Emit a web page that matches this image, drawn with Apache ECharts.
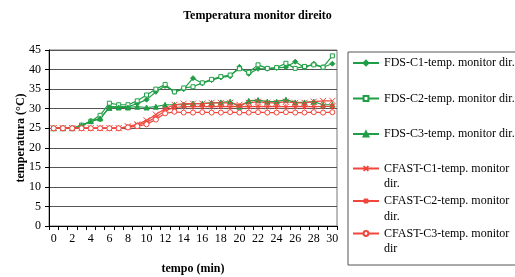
<!DOCTYPE html>
<html>
<head>
<meta charset="utf-8">
<script src="https://cdn.jsdelivr.net/npm/echarts@6/dist/echarts.min.js"></script>
<style>
  html, body { margin: 0; padding: 0; background: #fff; }
  #main { width: 515px; height: 277px; }
</style>
</head>
<body>
<div id="main"></div>
<script>
// 時間 (min)
const tempo = ["0","1","2","3","4","5","6","7","8","9","10","11","12","13","14","15","16","17","18","19","20","21","22","23","24","25","26","27","28","29","30"];
const yTicks = [0, 5, 10, 15, 20, 25, 30, 35, 40, 45];

// FDS
const fdsC1 = [25,25,25,25.5,26.8,27.3,30.5,30.5,30.5,31.3,32.3,34.3,35.8,34.3,35,37.8,36.5,37.3,38,38.3,40.7,38.9,40.2,40.2,40.4,40.6,42,40.5,41.5,40.6,41.5];
const fdsC2 = [25,25,25,25.8,26.8,28.3,31.4,31,31,32,33.5,35,36.2,34.3,35.3,35.6,36.6,37.5,38.2,38.6,40.2,39.3,41.2,40.3,40.5,41.6,40.3,40.8,41.2,40.6,43.5];
const fdsC3 = [25,25,25,25.7,26.8,27.5,30.2,30.3,30.3,30.5,30.3,30.5,31,31,31,31.3,31.3,31.5,31.6,31.8,30.5,32,32.2,31.8,31.8,32.3,31.6,31.6,31.8,31,31];

// CFAST
const cfastC1 = [25,25,25,25,25,25,25,25,25.5,26,27,28.5,30,31,31.3,31.3,31.3,31.5,31.5,31.5,31,31.5,31.8,31.5,31.5,31.8,31.5,31.5,31.8,32,32];
const cfastC2 = [25,25,25,25,25,25,25,25,25.3,25.8,26.5,27.8,29.5,30.3,30.5,30.5,30.6,30.5,30.6,30.5,30.6,30.5,30.6,30.5,30.6,30.5,30.5,30.6,30.5,30.6,30.6];
const cfastC3 = [25,25,25,25,25,25,25,25,25.2,25.5,26,27.2,28.8,29.2,29,29,29.1,29,29,29.1,29,29,29.1,29,29,29.1,29,29,29.1,29,29.1];

const names = [
  "FDS-C1-temp. monitor dir.",
  "FDS-C2-temp. monitor dir.",
  "FDS-C3-temp. monitor dir.",
  "CFAST-C1-temp. monitor dir.",
  "CFAST-C2-temp. monitor dir.",
  "CFAST-C3-temp. monitor dir",
];

const GREEN = "#1f9e45";
const RED = "#f0463c";
const SERIF = "'Liberation Serif', 'Times New Roman', serif";

// x / 星號 符號
const crossPath = "path://M0,0L10,10M10,0L0,10";
const starPath = "path://M0,0L10,10M10,0L0,10M5,-1L5,11M-1,5L11,5";

function makeSeries(name, data, color, symbol, size, hollow) {
  return {
    name: name,
    type: "line",
    data: data,
    symbol: symbol,
    symbolSize: size,
    showSymbol: true,
    lineStyle: { color: color, width: 1.2 },
    itemStyle: {
      color: hollow ? "#fff" : color,
      borderColor: color,
      borderWidth: 1,
    },
    emphasis: { disabled: true },
  };
}

const chart = echarts.init(document.getElementById("main"), null, { renderer: "canvas" });

const option = {
  animation: false,
  backgroundColor: "#fff",
  title: {
    text: "Temperatura monitor direito",
    left: "center",
    top: 5,
    textStyle: { fontFamily: SERIF, fontSize: 12, fontWeight: "bold", color: "#000" },
  },
  grid: {
    left: 49, right: 178, top: 50, bottom: 51,
    outerBoundsMode: "none",
    show: true, borderColor: "#777", borderWidth: 1,
  },
  // 圖例分兩組，CFAST 文字要換行
  legend: [
    {
      data: names.slice(0, 3),
      orient: "vertical",
      left: 352, top: 56,
      padding: 0,
      itemWidth: 26, itemHeight: 6, itemGap: 21.5,
      textStyle: { fontFamily: SERIF, fontSize: 12, color: "#000", lineHeight: 14 },
    },
    {
      data: names.slice(3),
      orient: "vertical",
      left: 352, top: 147,
      padding: 0,
      itemWidth: 26, itemHeight: 6, itemGap: -10.5,
      formatter: function (n) {
        const i = n.lastIndexOf(" ");
        return "{a| }\n{a|" + n.slice(0, i) + "}\n{a|" + n.slice(i + 1) + "}";
      },
      textStyle: {
        fontFamily: SERIF, fontSize: 12, color: "#000",
        rich: { a: { fontFamily: SERIF, fontSize: 12, lineHeight: 15.5, color: "#000" } },
      },
    },
  ],
  graphic: [
    {
      type: "rect",
      shape: { x: 348, y: 52, width: 175, height: 213 },
      style: { fill: "none", stroke: "#555", lineWidth: 1 },
      z: 0,
    },
  ],
  xAxis: {
    type: "category",
    data: tempo,
    boundaryGap: true,
    name: "tempo (min)",
    nameLocation: "middle",
    nameGap: 37,
    nameMoveOverlap: false,
    nameTextStyle: { fontFamily: SERIF, fontSize: 12, fontWeight: "bold", color: "#000" },
    axisLine: { lineStyle: { color: "#000", width: 1 } },
    axisTick: { show: true, interval: 0, length: 4, lineStyle: { color: "#000" } },
    axisLabel: { interval: 1, margin: 7, fontFamily: SERIF, fontSize: 12, color: "#000" },
    splitLine: { show: false },
  },
  yAxis: {
    type: "value",
    min: yTicks[0],
    max: yTicks[yTicks.length - 1],
    interval: 5,
    name: "temperatura (°C)",
    nameLocation: "middle",
    nameGap: 22,
    nameMoveOverlap: false,
    nameTextStyle: { fontFamily: SERIF, fontSize: 12, fontWeight: "bold", color: "#000" },
    axisLine: { show: true, lineStyle: { color: "#000", width: 1 } },
    axisTick: { show: true, length: 4, lineStyle: { color: "#000" } },
    axisLabel: { margin: 8, fontFamily: SERIF, fontSize: 12, color: "#000" },
    splitLine: { show: true, lineStyle: { color: "#555", width: 1 } },
  },
  series: [
    makeSeries(names[0], fdsC1, GREEN, "diamond", 5, false),
    makeSeries(names[1], fdsC2, GREEN, "rect", 4, true),
    makeSeries(names[2], fdsC3, GREEN, "triangle", 5, false),
    makeSeries(names[3], cfastC1, RED, crossPath, 6, false),
    makeSeries(names[4], cfastC2, RED, starPath, 6, false),
    makeSeries(names[5], cfastC3, RED, "circle", 5, true),
  ],
};

chart.setOption(option);
</script>
</body>
</html>
